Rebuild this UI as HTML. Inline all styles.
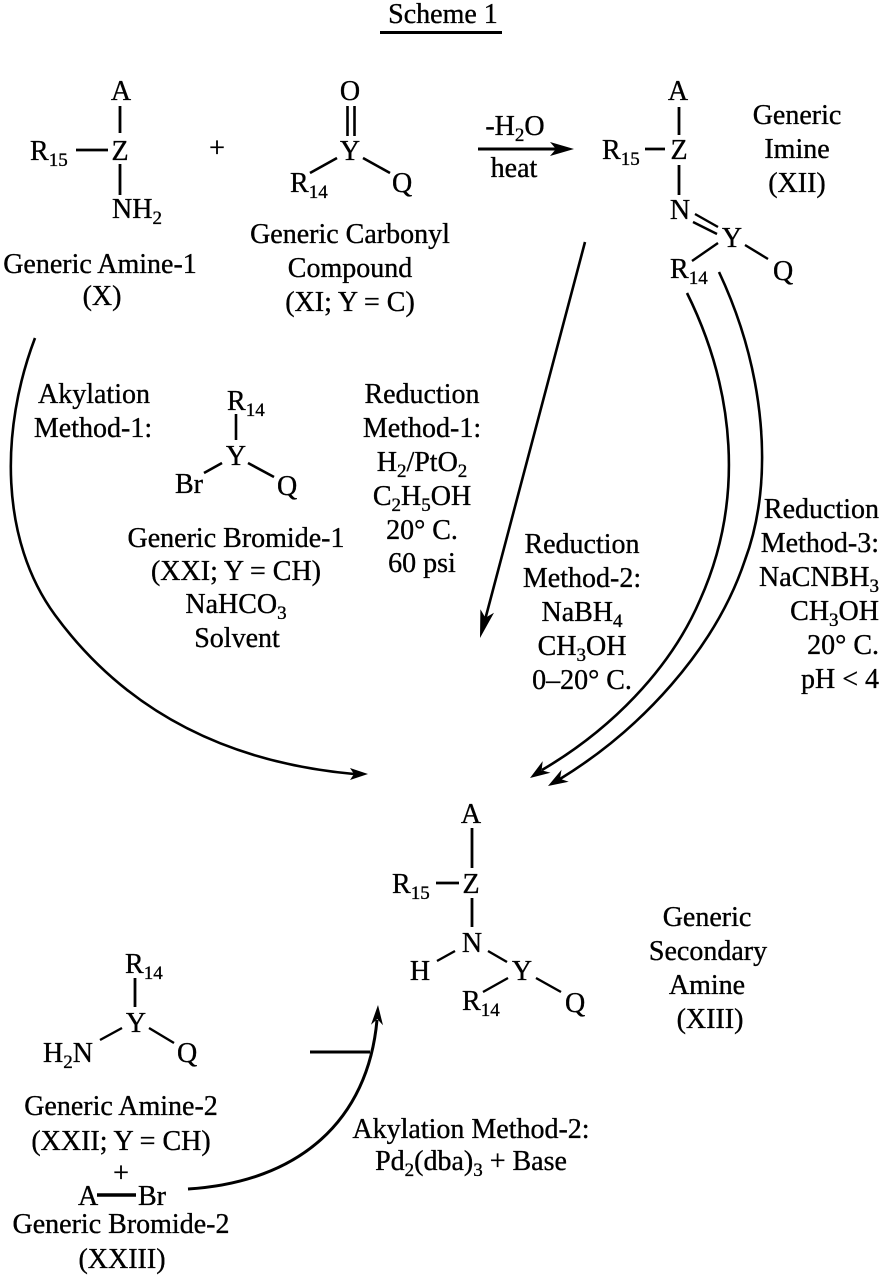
<!DOCTYPE html>
<html>
<head>
<meta charset="utf-8">
<style>
html,body{margin:0;padding:0;background:#fff;}
svg{display:block;}
text{font-family:"Liberation Serif","Times New Roman",serif;font-size:28px;fill:#000;stroke:#000;stroke-width:0.35px;}
.s{font-size:19px;}
.m{text-anchor:middle;}
.e{text-anchor:end;}
line,path.b{stroke:#000;fill:none;}
</style>
</head>
<body>
<svg width="884" height="1279" viewBox="0 0 884 1279" xmlns="http://www.w3.org/2000/svg">
<rect width="884" height="1279" fill="#fff"/>

<!-- Title -->
<text x="443" y="23" class="m">Scheme 1</text>
<line x1="380" y1="32.5" x2="502" y2="32.5" stroke-width="3"/>

<!-- Generic Amine-1 -->
<g stroke-width="2.8">
<line x1="120" y1="106" x2="120" y2="133"/>
<line x1="76" y1="150" x2="108" y2="150"/>
<line x1="120" y1="164" x2="120" y2="195"/>
</g>
<text x="121" y="100" class="m">A</text>
<text x="120" y="160" class="m">Z</text>
<text x="30" y="160">R<tspan class="s" dy="6">15</tspan></text>
<text x="112" y="218">NH<tspan class="s" dy="6">2</tspan></text>
<text x="100" y="273" class="m">Generic Amine-1</text>
<text x="102" y="305" class="m">(X)</text>

<text x="217" y="157" class="m">+</text>

<!-- Generic Carbonyl -->
<g stroke-width="2.6">
<line x1="347.5" y1="106" x2="347.5" y2="136"/>
<line x1="354.5" y1="106" x2="354.5" y2="136"/>
<line x1="337" y1="158" x2="310" y2="173"/>
<line x1="363" y1="158" x2="390" y2="173"/>
</g>
<text x="350" y="100" class="m">O</text>
<text x="350" y="160" class="m">Y</text>
<text x="290" y="192">R<tspan class="s" dy="6">14</tspan></text>
<text x="392" y="192">Q</text>
<text x="350" y="243" class="m">Generic Carbonyl</text>
<text x="350" y="277" class="m">Compound</text>
<text x="350" y="311" class="m">(XI; Y = C)</text>

<!-- -H2O heat arrow -->
<line x1="478" y1="149" x2="556" y2="149" stroke-width="3"/>
<polygon points="574,149 550,142 556,149 550,156" fill="#000"/>
<text x="515" y="135" class="m">-H<tspan class="s" dy="6">2</tspan><tspan dy="-6">O</tspan></text>
<text x="514" y="177" class="m">heat</text>

<!-- Generic Imine -->
<g stroke-width="2.8">
<line x1="679" y1="107" x2="679" y2="135"/>
<line x1="645" y1="149" x2="665" y2="149"/>
<line x1="679" y1="165" x2="679" y2="195"/>
</g>
<g stroke-width="2.4">
<line x1="695" y1="214" x2="718" y2="227"/>
<line x1="693" y1="222" x2="717" y2="234"/>
<line x1="718" y1="243" x2="692" y2="261"/>
<line x1="745" y1="245" x2="768" y2="259"/>
</g>
<text x="678" y="100" class="m">A</text>
<text x="679" y="159" class="m">Z</text>
<text x="602" y="159">R<tspan class="s" dy="6">15</tspan></text>
<text x="680" y="219" class="m">N</text>
<text x="732" y="247" class="m">Y</text>
<text x="670" y="278">R<tspan class="s" dy="6">14</tspan></text>
<text x="773" y="280">Q</text>
<text x="797" y="124" class="m">Generic</text>
<text x="797" y="158" class="m">Imine</text>
<text x="797" y="192" class="m">(XII)</text>

<!-- Left arc (Akylation Method-1) -->
<path class="b" d="M35,338 C0,430 0,540 55,615 C110,690 200,760 354,774" stroke-width="2.6"/>
<polygon points="368,774 350,768 354,774 350,780" fill="#000"/>

<!-- Straight arrow (Reduction Method-1) -->
<line x1="585" y1="242" x2="485" y2="620" stroke-width="2.6"/>
<polygon points="480,638 494,612.8 485.4,617.7 480.4,609.2" fill="#000"/>

<!-- Curved arrows (Reduction Method-2 and -3) -->
<path class="b" d="M687,293 C735,390 745,500 700,600 C670,670 610,730 542,770" stroke-width="2.6"/>
<polygon points="530,778 550.5,772.7 541.6,770.2 542.7,761.1" fill="#000"/>
<path class="b" d="M719,272 C765,370 775,480 745,560 C715,650 640,730 560,779" stroke-width="2.6"/>
<polygon points="548,786 568.7,781.7 560,778.8 561.5,769.7" fill="#000"/>

<!-- Akylation Method-1 labels -->
<text x="94" y="403" class="m">Akylation</text>
<text x="93" y="437" class="m">Method-1:</text>

<!-- Generic Bromide-1 -->
<g stroke-width="2.6">
<line x1="236" y1="414" x2="236" y2="440"/>
<line x1="222" y1="463" x2="204" y2="473"/>
<line x1="248" y1="463" x2="274" y2="477"/>
</g>
<text x="227" y="410">R<tspan class="s" dy="6">14</tspan></text>
<text x="236" y="465" class="m">Y</text>
<text x="175" y="493">Br</text>
<text x="277" y="495">Q</text>
<text x="236" y="547" class="m">Generic Bromide-1</text>
<text x="236" y="580" class="m">(XXI; Y = CH)</text>
<text x="236" y="613" class="m">NaHCO<tspan class="s" dy="6">3</tspan></text>
<text x="237" y="647" class="m">Solvent</text>

<!-- Reduction Method-1 -->
<text x="422" y="403" class="m">Reduction</text>
<text x="422" y="437" class="m">Method-1:</text>
<text x="422" y="471" class="m">H<tspan class="s" dy="6">2</tspan><tspan dy="-6">/PtO</tspan><tspan class="s" dy="6">2</tspan></text>
<text x="422" y="505" class="m">C<tspan class="s" dy="6">2</tspan><tspan dy="-6">H</tspan><tspan class="s" dy="6">5</tspan><tspan dy="-6">OH</tspan></text>
<text x="422" y="539" class="m">20° C.</text>
<text x="422" y="572" class="m">60 psi</text>

<!-- Reduction Method-2 -->
<text x="582" y="553" class="m">Reduction</text>
<text x="582" y="587" class="m">Method-2:</text>
<text x="582" y="621" class="m">NaBH<tspan class="s" dy="6">4</tspan></text>
<text x="582" y="655" class="m">CH<tspan class="s" dy="6">3</tspan><tspan dy="-6">OH</tspan></text>
<text x="582" y="689" class="m">0–20° C.</text>

<!-- Reduction Method-3 -->
<text x="879" y="518" class="e">Reduction</text>
<text x="879" y="552" class="e">Method-3:</text>
<text x="879" y="586" class="e">NaCNBH<tspan class="s" dy="6">3</tspan></text>
<text x="879" y="620" class="e">CH<tspan class="s" dy="6">3</tspan><tspan dy="-6">OH</tspan></text>
<text x="879" y="654" class="e">20° C.</text>
<text x="879" y="688" class="e">pH &lt; 4</text>

<!-- Generic Secondary Amine -->
<g stroke-width="2.8">
<line x1="472" y1="828" x2="472" y2="868"/>
<line x1="436" y1="883" x2="459" y2="883"/>
<line x1="472" y1="898" x2="472" y2="927"/>
</g>
<g stroke-width="2.4">
<line x1="455" y1="951" x2="437" y2="961"/>
<line x1="488" y1="951" x2="507" y2="962"/>
<line x1="508" y1="978" x2="483" y2="992"/>
<line x1="536" y1="978" x2="561" y2="992"/>
</g>
<text x="471" y="823" class="m">A</text>
<text x="471" y="893" class="m">Z</text>
<text x="392" y="893">R<tspan class="s" dy="6">15</tspan></text>
<text x="472" y="952" class="m">N</text>
<text x="420" y="980" class="m">H</text>
<text x="522" y="980" class="m">Y</text>
<text x="462" y="1010">R<tspan class="s" dy="6">14</tspan></text>
<text x="565" y="1012">Q</text>
<text x="707" y="926" class="m">Generic</text>
<text x="708" y="960" class="m">Secondary</text>
<text x="707" y="994" class="m">Amine</text>
<text x="710" y="1028" class="m">(XIII)</text>

<!-- Generic Amine-2 -->
<g stroke-width="2.8">
<line x1="135" y1="978" x2="135" y2="1007"/>
</g>
<g stroke-width="2.4">
<line x1="122" y1="1028" x2="100" y2="1040"/>
<line x1="149" y1="1028" x2="174" y2="1043"/>
</g>
<text x="125" y="973">R<tspan class="s" dy="6">14</tspan></text>
<text x="136" y="1032" class="m">Y</text>
<text x="43" y="1062">H<tspan class="s" dy="6">2</tspan><tspan dy="-6">N</tspan></text>
<text x="177" y="1062">Q</text>
<text x="121" y="1115" class="m">Generic Amine-2</text>
<text x="121" y="1150" class="m">(XXII; Y = CH)</text>
<text x="121" y="1182" class="m">+</text>
<text x="78" y="1205">A</text>
<line x1="97" y1="1195" x2="136" y2="1195" stroke-width="3.5"/>
<text x="138" y="1205">Br</text>
<text x="121" y="1233" class="m">Generic Bromide-2</text>
<text x="122" y="1268" class="m">(XXIII)</text>

<!-- Akylation Method-2 arrow -->
<line x1="310" y1="1052" x2="370" y2="1052" stroke-width="3"/>
<path class="b" d="M188,1189 C300,1182 368,1120 377,1020" stroke-width="3"/>
<polygon points="378,1005 383,1025.3 377.3,1019 371,1024.7" fill="#000"/>
<text x="471" y="1138" class="m">Akylation Method-2:</text>
<text x="471" y="1170" class="m">Pd<tspan class="s" dy="6">2</tspan><tspan dy="-6">(dba)</tspan><tspan class="s" dy="6">3</tspan><tspan dy="-6"> + Base</tspan></text>
</svg>
</body>
</html>
